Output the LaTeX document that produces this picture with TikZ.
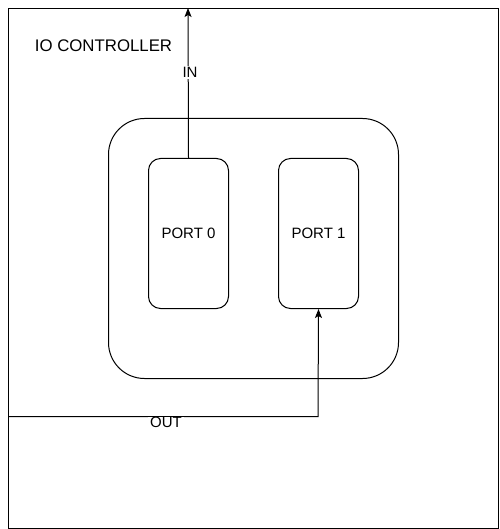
\documentclass[tikz,border=0pt]{standalone}
\usepackage{fontspec}
\setmainfont{Liberation Sans}
\usetikzlibrary{arrows.meta}
\begin{document}
\begin{tikzpicture}[x=1pt,y=-1pt,
  line width=1pt,
  box/.style={draw=black, line width=1pt, rounded corners=#1},
  lbl/.style={font=\fontsize{15}{17}\selectfont, inner sep=1pt},
  conn/.style={draw=black, line width=1pt, -{Stealth[length=9pt,width=7pt,inset=2pt]}}
]
\useasboundingbox (0,0) rectangle (499,529);
\fill[white] (0,0) rectangle (499,529);
% outer controller
\node[draw=black, line width=1pt, minimum width=490pt, minimum height=520pt, inner sep=0pt, anchor=north west] (ctrl) at (8,8) {};
\node[font=\fontsize{16.8}{19}\selectfont, inner sep=0pt] (title) at (103.5,45.5) {IO CONTROLLER};
% inner rounded container
\node[box=36pt, minimum width=290pt, minimum height=260pt, inner sep=0pt, anchor=north west] (inner) at (108,118) {};
% ports
\node[box=12pt, minimum width=80pt, minimum height=150pt, inner sep=0pt, anchor=north west, lbl] (p0) at (148,158) {PORT 0};
\node[box=12pt, minimum width=80pt, minimum height=150pt, inner sep=0pt, anchor=north west, lbl] (p1) at (278,158) {PORT 1};
% IN connector
\coordinate (intop) at (188,8);
\draw[conn] (p0.north) -- (intop);
\node[lbl, fill=white] (inlbl) at (190,72.5) {IN};
% OUT connector
\coordinate (outleft) at (8,416.5);
\coordinate (outcorner) at (318,416.5);
\draw[conn] (outleft) -- (outcorner) -- (p1.south);
\node[lbl, fill=white, inner xsep=2pt, inner ysep=0pt] (outlbl) at (166,422) {OUT};
\end{tikzpicture}
\end{document}
